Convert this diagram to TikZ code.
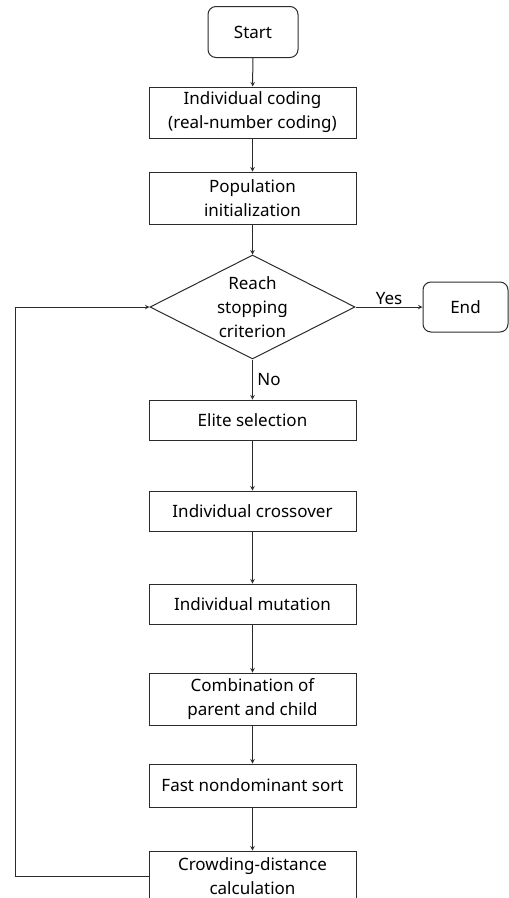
\documentclass[tikz,border=0pt]{standalone}
\usepackage{fontspec}
\setmainfont{Noto Sans}
\usepackage{tikz}
\usetikzlibrary{shapes.geometric}
\usetikzlibrary{arrows}
\definecolor{linegray}{HTML}{2B2B2B}

\begin{document}
\begin{tikzpicture}[x=1pt, y=-1pt, >=stealth,
    font=\fontsize{17}{24}\selectfont,
    stepbox/.style={draw=linegray, line width=1pt, minimum width=207pt,
                    align=center, inner sep=0pt},
    endbox/.style={draw=linegray, line width=1pt, rounded corners=8pt,
                   align=center, inner sep=0pt},
    decision/.style={draw=linegray, line width=1pt, diamond, inner sep=0pt,
                     minimum width=205pt, minimum height=104pt},
    flow/.style={->, draw=linegray, line width=1pt}]

           % page
           \useasboundingbox (0,0) rectangle (509,898);
           \clip (0,0) rectangle (509,898);

           % Start and end
           \node[endbox, minimum width=90pt, minimum height=51pt] (start) at (253,32) {Start};
           \node[endbox, minimum width=85pt, minimum height=50pt] (end) at (465.5,307) {End};

           % Coding and initialization
           \node[stepbox, minimum height=51pt] (coding) at (252.5,112.5)
                {Individual coding\\(real-number coding)};
           \node[stepbox, minimum height=52pt] (init) at (252.5,198)
                {Population\\initialization};

           % Stopping test
           \node[decision] (reach) at (252.5,307) {};
           \node[align=center] (reachtext) at (reach) {Reach\\stopping\\criterion};

           % Genetic operators
           \node[stepbox, minimum height=40pt] (elite) at (252.5,420) {Elite selection};
           \node[stepbox, minimum height=40pt] (cross) at (252.5,511) {Individual crossover};
           \node[stepbox, minimum height=40pt] (mutate) at (252.5,604) {Individual mutation};
           \node[stepbox, minimum height=52pt] (combine) at (252.5,699)
                {Combination of\\parent and child};
           \node[stepbox, minimum height=43pt] (sort) at (252.5,785.5) {Fast nondominant sort};
           \node[stepbox, minimum height=50pt] (crowd) at (252.5,876)
                {Crowding-distance\\calculation};

           % Flow
           \draw[flow] (start) -- (coding);
           \draw[flow] (coding) -- (init);
           \draw[flow] (init) -- (reach);
           \draw[flow] (reach) -- node[above, yshift=-1pt] (yes) {Yes} (end);
           \draw[flow] (reach) -- node[right, xshift=1pt] (no) {No} (elite);
           \draw[flow] (elite) -- (cross);
           \draw[flow] (cross) -- (mutate);
           \draw[flow] (mutate) -- (combine);
           \draw[flow] (combine) -- (sort);
           \draw[flow] (sort) -- (crowd);

           % Loop back
           \coordinate (back) at (15,0);
           \draw[flow] (crowd.west) -- (crowd.west -| back) |- (reach.west);

\end{tikzpicture}
\end{document}
